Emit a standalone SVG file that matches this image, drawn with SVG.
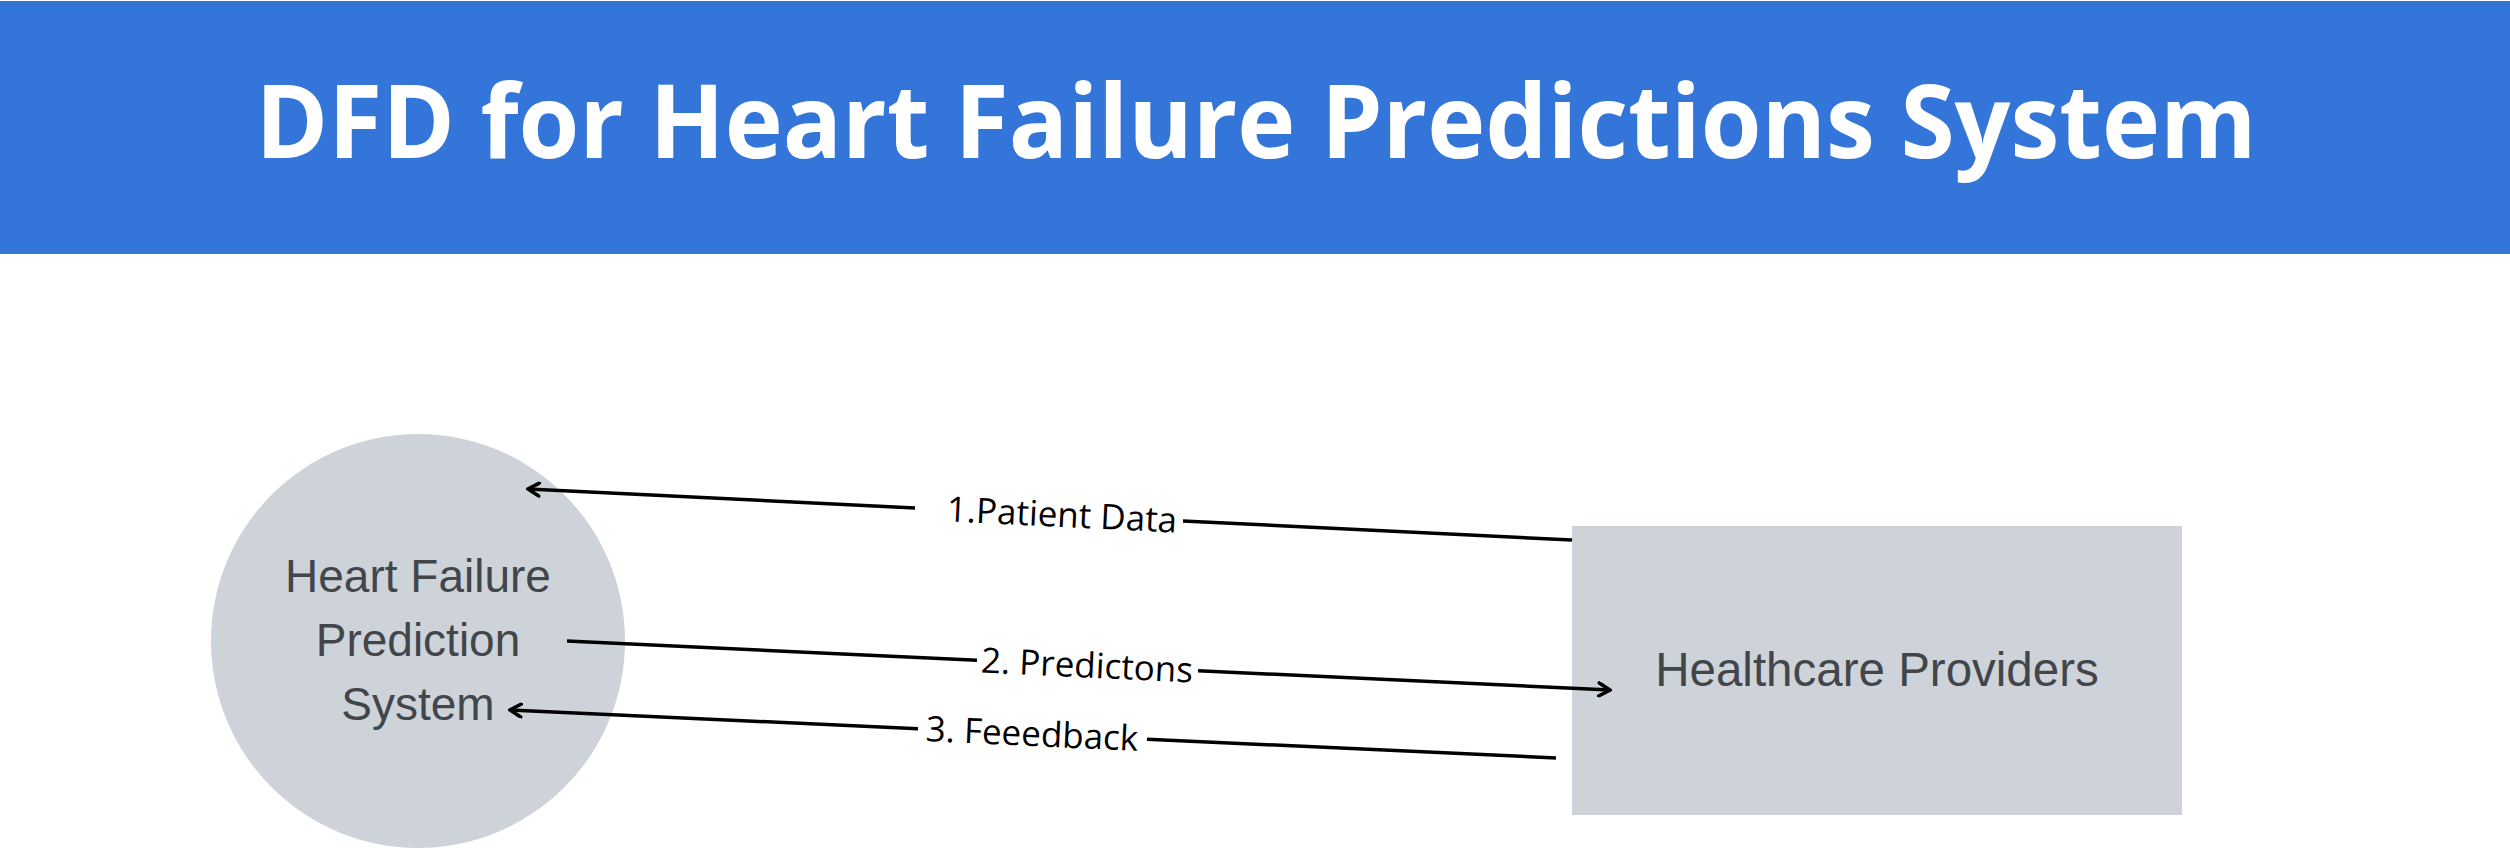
<svg xmlns="http://www.w3.org/2000/svg" width="2510" height="849" viewBox="0 0 2510 849">
  <defs>
    <style>
      .title { font-family: "Open Sans", "Liberation Sans", sans-serif; font-weight: 700; font-size: 103px; fill: #ffffff; }
      .node-shape { fill: #CED3DA; }
      .node-text { font-family: "Liberation Sans", Arial, sans-serif; font-size: 46px; fill: #42464B; text-anchor: middle; }
      .flow { fill: none; stroke: #000000; stroke-width: 3.5; stroke-linecap: butt; }
      .flow-label { font-family: "Open Sans", "Liberation Sans", sans-serif; font-size: 35px; fill: #000000; text-anchor: middle; }
    </style>
    <marker id="arrow" viewBox="0 0 16 16" refX="14" refY="8" markerWidth="16" markerHeight="16" markerUnits="userSpaceOnUse" orient="auto">
      <path d="M3,1.5 L14,8 L3,14.5" fill="none" stroke="#000000" stroke-width="3.6" stroke-linejoin="miter" stroke-linecap="round"/>
    </marker>
  </defs>

  <rect width="2510" height="849" fill="#ffffff"/>

  <g id="header">
    <rect x="0" y="1" width="2510" height="253" fill="#3375D9"/>
    <text class="title" x="1256" y="158" text-anchor="middle" textLength="2001" lengthAdjust="spacingAndGlyphs">DFD for Heart Failure Predictions System</text>
  </g>

  <g id="node-process">
    <circle class="node-shape" cx="418" cy="641" r="207"/>
    <text class="node-text" x="418" y="592">Heart Failure</text>
    <text class="node-text" x="418" y="656">Prediction</text>
    <text class="node-text" x="418" y="720">System</text>
  </g>

  <g id="node-entity">
    <rect class="node-shape" x="1572" y="526" width="610" height="289"/>
    <text class="node-text" x="1877" y="686" style="font-size:47.5px">Healthcare Providers</text>
  </g>

  <g id="connectors">
    <g id="flow-1">
      <path class="flow" d="M1572,540 L1183,521"/>
      <path class="flow" d="M915,507.9 L528,489" marker-end="url(#arrow)"/>
      <text class="flow-label" transform="translate(1062,515) rotate(2.8)" y="12">1.Patient Data</text>
    </g>
    <g id="flow-2">
      <path class="flow" d="M567,641 L977,660.3"/>
      <path class="flow" d="M1198,670.7 L1610,690" marker-end="url(#arrow)"/>
      <text class="flow-label" transform="translate(1087,665.5) rotate(2.7)" y="12">2. Predictons</text>
    </g>
    <g id="flow-3">
      <path class="flow" d="M1556,758 L1147,739.2"/>
      <path class="flow" d="M918,728.7 L510,710" marker-end="url(#arrow)"/>
      <text class="flow-label" transform="translate(1032,734) rotate(2.63)" y="12">3. Feeedback</text>
    </g>
  </g>
</svg>
